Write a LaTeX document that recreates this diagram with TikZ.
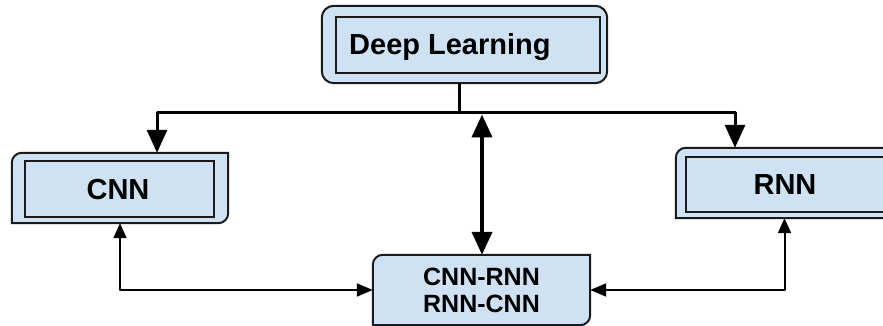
\documentclass[tikz,border=0pt]{standalone}
\usepackage{fontspec}
\setmainfont{Liberation Sans}
\usetikzlibrary{arrows.meta,backgrounds}
\definecolor{boxfill}{HTML}{CFE2F3}
\definecolor{boxline}{HTML}{1A1A1A}
\begin{document}
\begin{tikzpicture}[x=1pt,y=1pt,
  shell/.style={inner sep=0pt,minimum width=#1},
  outerbox/.style={draw=boxline,fill=boxfill,line width=2pt},
  innerbox/.style={draw=boxline,line width=1.3pt,inner sep=0pt},
  lbl/.style={font=\fontsize{29}{33}\selectfont\bfseries,inner sep=0pt},
  hyblbl/.style={font=\fontsize{25}{27}\selectfont\bfseries,align=center,inner sep=0pt},
  bigline/.style={line width=3pt,draw=black,line join=round},
  bigarrow/.style={bigline,-{Triangle[width=20pt,length=23pt]}},
  bigboth/.style={line width=4pt,{Triangle[width=20pt,length=23pt]}-{Triangle[width=20pt,length=23pt]}},
  smallboth/.style={line width=2pt,line join=round,{Triangle[width=13pt,length=15pt]}-{Triangle[width=13pt,length=16pt]}}
]
\useasboundingbox (0,0) rectangle (883,326);

% boxes (outer shells)
\node[shell=285pt,minimum height=77pt] (dl) at (464.5,281.5) {};
\node[shell=216pt,minimum height=70pt] (cnn) at (120,138) {};
\node[shell=217pt,minimum height=70pt] (rnn) at (784.5,143) {};
\node[shell=217pt,minimum height=70pt,hyblbl] (hyb) at (481.5,36) {CNN-RNN\\RNN-CNN};

% labels
\node[lbl,anchor=base west] (dltext) at (349,271) {Deep Learning};
\node[lbl,anchor=base] (cnntext) at (118,126) {CNN};
\node[lbl,anchor=base] (rnntext) at (785,131) {RNN};

\begin{pgfonlayer}{background}
  \path[outerbox,rounded corners=12pt] (dl.south west) rectangle (dl.north east);
  \node[innerbox,minimum width=264pt,minimum height=56pt] (dlin) at (468,281) {};
  \path[outerbox] (cnn.south west) -- ([yshift=-10pt]cnn.north west)
     arc[start angle=180,end angle=90,radius=10pt] -- (cnn.north east)
     -- ([yshift=10pt]cnn.south east) arc[start angle=0,end angle=-90,radius=10pt] -- cycle;
  \node[innerbox,minimum width=189pt,minimum height=56pt] (cnnin) at (119.5,137) {};
  \path[outerbox] (rnn.south west) -- ([yshift=-10pt]rnn.north west)
     arc[start angle=180,end angle=90,radius=10pt] -- (rnn.north east)
     -- ([yshift=10pt]rnn.south east) arc[start angle=0,end angle=-90,radius=10pt] -- cycle;
  \node[innerbox,minimum width=198pt,minimum height=55pt] (rnnin) at (785,141.5) {};
  \path[outerbox] (hyb.south west) -- ([yshift=-10pt]hyb.north west)
     arc[start angle=180,end angle=90,radius=10pt] -- (hyb.north east)
     -- ([yshift=10pt]hyb.south east) arc[start angle=0,end angle=-90,radius=10pt] -- cycle;
\end{pgfonlayer}

% connectors
\coordinate (stem) at (459,213);
\coordinate (jl) at (157,213);
\coordinate (jr) at (735,213);
\coordinate (mtop) at (482,211.5);
\draw[bigline] ([xshift=-5.5pt]dl.south) -- (stem);
\draw[bigarrow] (stem) -- (jl) -- (jl |- cnn.north);
\draw[bigarrow] (stem) -- (jr) -- (jr |- rnn.north);
\draw[bigboth] (mtop) -- (mtop |- hyb.north);
\draw[smallboth] (cnn.south) |- (hyb.west);
\draw[smallboth] (rnn.south) |- (hyb.east);
\end{tikzpicture}
\end{document}
